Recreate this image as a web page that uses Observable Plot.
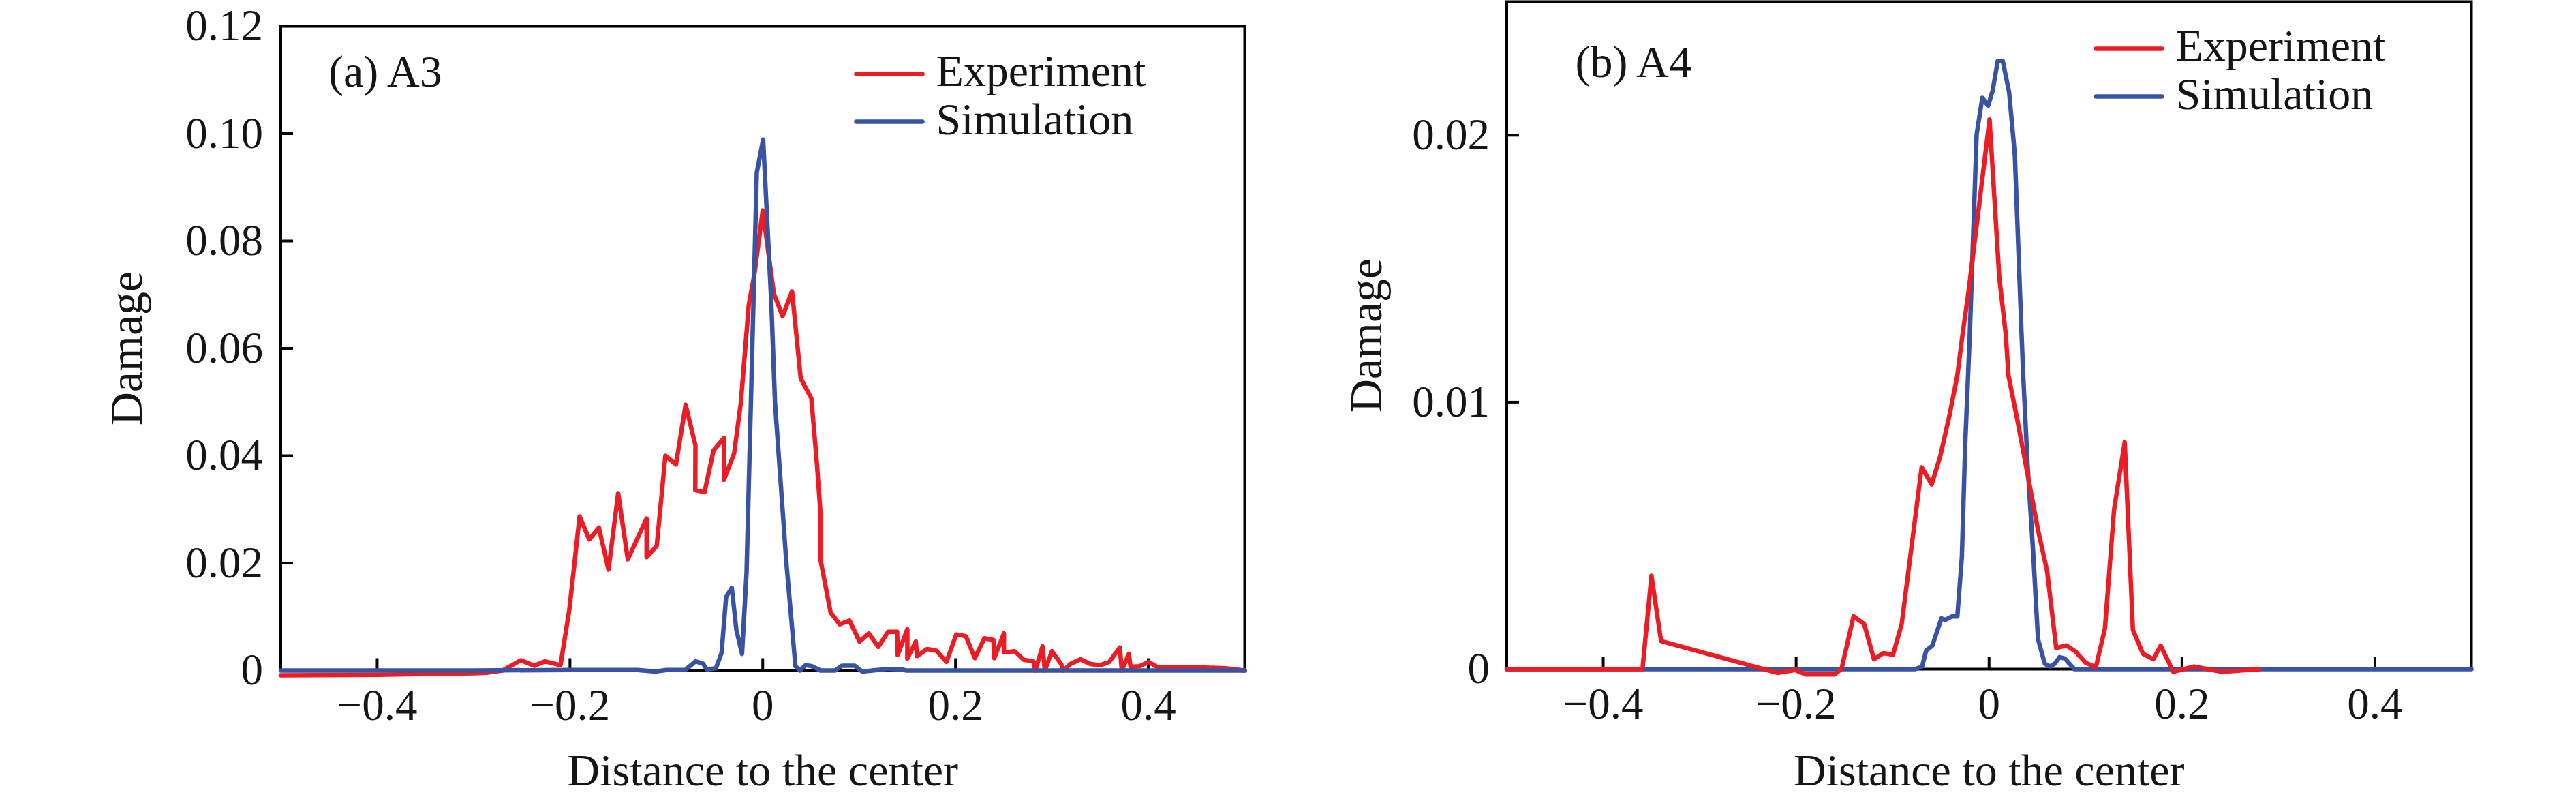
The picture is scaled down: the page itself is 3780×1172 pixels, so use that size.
<!DOCTYPE html>
<html>
<head>
<meta charset="utf-8">
<script src="https://cdn.jsdelivr.net/npm/d3@7"></script>
<script src="https://cdn.jsdelivr.net/npm/@observablehq/plot@0.6"></script>
<style>
  html, body { margin: 0; padding: 0; background: white; }
  #wrap { position: relative; width: 3780px; height: 1172px; overflow: hidden; background: white; }
  .panel { position: absolute; top: 0; }
  .panel svg { max-width: none !important; }
</style>
</head>
<body>
<div id="wrap">
  <div class="panel" id="pa" style="left:0px"></div>
  <div class="panel" id="pb" style="left:1900px"></div>
</div>
<script>
// ---------- data ----------
const xTicks = [-0.4, -0.2, 0, 0.2, 0.4];
const yTicksA = [0, 0.02, 0.04, 0.06, 0.08, 0.10, 0.12];
const yTicksB = [0, 0.01, 0.02];
const seriesNames = ["Experiment", "Simulation"];
const panelLabels = ["(a) A3", "(b) A4"];
const xLabel = "Distance to the center";
const yLabel = "Damage";

// (a) A3 experiment: [x, damage]
const expA = [
  [-0.5, -0.0009], [-0.40, -0.0008], [-0.30, -0.0005], [-0.2855, -0.0004], [-0.27, 0.0],
  [-0.251, 0.0019], [-0.237, 0.0009], [-0.226, 0.0017], [-0.2098, 0.0010], [-0.2006, 0.0114],
  [-0.190, 0.0287], [-0.180, 0.0244], [-0.170, 0.0266], [-0.160, 0.0188], [-0.150, 0.0330],
  [-0.140, 0.0207], [-0.1205, 0.0283], [-0.1205, 0.0211], [-0.110, 0.0232], [-0.101, 0.0400],
  [-0.090, 0.0384], [-0.080, 0.0495], [-0.0698, 0.0419], [-0.0700, 0.0336], [-0.0604, 0.0332],
  [-0.051, 0.0410], [-0.0403, 0.0433], [-0.0403, 0.0355], [-0.0297, 0.0404], [-0.0227, 0.0499],
  [-0.0145, 0.0681], [-0.0085, 0.0740], [0.0, 0.0857], [0.0115, 0.0702], [0.0206, 0.0660],
  [0.0304, 0.0706], [0.0394, 0.0544], [0.0504, 0.0507], [0.0562, 0.0385], [0.0598, 0.0296],
  [0.0598, 0.0207], [0.0704, 0.0108], [0.0799, 0.0086], [0.0900, 0.0093], [0.1004, 0.0054],
  [0.1100, 0.0069], [0.1199, 0.0044], [0.1300, 0.0072], [0.1394, 0.0072], [0.1400, 0.0029],
  [0.1500, 0.0077], [0.1500, 0.0022], [0.1588, 0.0054], [0.1600, 0.0027], [0.1705, 0.0040],
  [0.1800, 0.0037], [0.1906, 0.0016], [0.2007, 0.0067], [0.2107, 0.0064], [0.2200, 0.0023],
  [0.2299, 0.0060], [0.2393, 0.0057], [0.2402, 0.0023], [0.2502, 0.0069], [0.2502, 0.0034],
  [0.2613, 0.0036], [0.2707, 0.0020], [0.2808, 0.0017], [0.2828, 0.0000], [0.2903, 0.0045],
  [0.2926, 0.0000], [0.3001, 0.0036], [0.3096, 0.0012], [0.3120, 0.0000], [0.3190, 0.0012],
  [0.3296, 0.0021], [0.3400, 0.0012], [0.3501, 0.0010], [0.3595, 0.0016], [0.3704, 0.0043],
  [0.3725, 0.0000], [0.3798, 0.0031], [0.3815, 0.0007], [0.3909, 0.0008], [0.4003, 0.0016],
  [0.4097, 0.0006], [0.4500, 0.0006], [0.4800, 0.0004], [0.5000, 0.0000]
];
// (a) A3 simulation
const simA = [
  [-0.5, 0.0], [-0.30, 0.0], [-0.20, 0.0001], [-0.13, 0.0001], [-0.1115, -0.0002], [-0.10, 0.0001],
  [-0.0804, 0.0001], [-0.0698, 0.0017], [-0.062, 0.0013], [-0.058, 0.0002], [-0.0486, 0.0004],
  [-0.0427, 0.0033], [-0.038, 0.0137], [-0.0321, 0.0154], [-0.0274, 0.0076], [-0.0215, 0.0031],
  [-0.0168, 0.0182], [-0.0062, 0.0927], [0.0004, 0.0989], [0.0032, 0.0889], [0.009, 0.0680],
  [0.0127, 0.0499], [0.0244, 0.0203], [0.0339, 0.0008], [0.0386, 0.0], [0.0445, 0.0010],
  [0.051, 0.0008], [0.0598, 0.0], [0.075, 0.0], [0.0822, 0.0009], [0.0952, 0.0009],
  [0.1034, -0.0002], [0.114, 0.0], [0.13, 0.0003], [0.1445, 0.0002], [0.149, 0.0], [0.5, 0.0]
];
// (b) A4 experiment
const expB = [
  [-0.5, 0.0], [-0.3593, 0.0], [-0.350, 0.0035], [-0.340, 0.00105], [-0.2196, -0.00014],
  [-0.201, -0.00003], [-0.190, -0.0002], [-0.1605, -0.0002], [-0.153, 0.0], [-0.1405, 0.00198],
  [-0.1295, 0.00169], [-0.1193, 0.00037], [-0.1095, 0.00060], [-0.0996, 0.00054], [-0.0906, 0.00169],
  [-0.0699, 0.00756], [-0.0595, 0.00692], [-0.0505, 0.00799], [-0.0412, 0.00948], [-0.0329, 0.0110],
  [-0.0275, 0.01254], [-0.0212, 0.01416], [0.0005, 0.02059], [0.0106, 0.01467], [0.0173, 0.01254],
  [0.0201, 0.0110], [0.0295, 0.0093], [0.0401, 0.00726], [0.0507, 0.00522], [0.0601, 0.00369],
  [0.0696, 0.00079], [0.0801, 0.00089], [0.0896, 0.00066], [0.1001, 0.00024], [0.1107, 0.00007],
  [0.1201, 0.00152], [0.1296, 0.00598], [0.1406, 0.0085], [0.1491, 0.00147], [0.1595, 0.00058],
  [0.1703, 0.00037], [0.1779, 0.00088], [0.191, -0.0001], [0.2125, 0.0001], [0.241, -0.0001],
  [0.2804, 0.0]
];
// (b) A4 simulation
const simB = [
  [-0.5, 0.0], [-0.0765, 0.0], [-0.0694, 0.0001], [-0.0652, 0.0007], [-0.0588, 0.00088],
  [-0.0494, 0.0019], [-0.0452, 0.00185], [-0.0388, 0.00197], [-0.0329, 0.00197], [-0.0282, 0.0042],
  [-0.0247, 0.00845], [-0.0200, 0.01254], [-0.0129, 0.02003], [-0.0070, 0.0214], [-0.0011, 0.0211],
  [0.0036, 0.02165], [0.0090, 0.02278], [0.0142, 0.02278], [0.0208, 0.0216], [0.0267, 0.01927],
  [0.0337, 0.01254], [0.0354, 0.0110], [0.040, 0.0076], [0.046, 0.0042], [0.0507, 0.00113],
  [0.0578, 0.0002], [0.063, 0.0001], [0.068, 0.0002], [0.0731, 0.00045], [0.0785, 0.0004],
  [0.0884, 0.0], [0.5, 0.0]
];

// ---------- styling ----------
const RED = "#ed1c24";
const BLUE = "#3953a4";
const INK = "#161414";
const FONT = "'Liberation Serif', 'Times New Roman', serif";
const seg = {draw(ctx, l) { ctx.moveTo(0, 0); ctx.lineTo(0, -l); }};

const fmtX = d => d === 0 ? "0" : (d < 0 ? "\u2212" : "") + Math.abs(d).toFixed(1);
const fmtY = dec => d => d === 0 ? "0" : d.toFixed(dec);

function panel(o) {
  const innerYTicks = o.yTicks.filter(d => d > o.yDomain[0] && d < o.yDomain[1]);
  const txt = (fs) => ({textAnchor: "start", lineAnchor: "bottom", fontSize: fs, fontFamily: FONT, fill: INK});
  const marks = [
    Plot.frame({stroke: "black", strokeWidth: 4}),
    Plot.axisX({ticks: xTicks, tickSize: 0, tickPadding: 26, tickFormat: fmtX, label: null,
                fontSize: 65, fontFamily: FONT, fill: INK}),
    Plot.axisY({ticks: o.yTicks, tickSize: 0, tickPadding: o.yPad, tickFormat: fmtY(o.dec), label: null,
                fontSize: 65, fontFamily: FONT, fill: INK}),
    Plot.vector(xTicks, {x: d => d, frameAnchor: "bottom", length: 18, rotate: 0, anchor: "start",
                shape: seg, stroke: "black", strokeWidth: 4, strokeLinecap: "butt"}),
    Plot.vector(innerYTicks, {y: d => d, frameAnchor: "left", length: 18, rotate: 90, anchor: "start",
                shape: seg, stroke: "black", strokeWidth: 4, strokeLinecap: "butt"})
  ];
  const lineExp = Plot.line(o.exp, {x: d => d[0], y: d => d[1], stroke: RED, strokeWidth: 6.5});
  const lineSim = Plot.line(o.sim, {x: d => d[0], y: d => d[1], stroke: BLUE, strokeWidth: 6.5});
  if (o.redOnTop) marks.push(lineSim, lineExp); else marks.push(lineExp, lineSim);
  marks.push(
    Plot.text([o.label], {text: d => d, frameAnchor: "top-left", dx: o.labelDx, dy: o.labelDy, ...txt(66)}),
    Plot.vector([seriesNames[0]], {frameAnchor: "top-left", dx: o.legDx, dy: o.legDy, length: 97, rotate: 90,
              anchor: "start", shape: seg, stroke: RED, strokeWidth: 6.5, strokeLinecap: "round"}),
    Plot.vector([seriesNames[1]], {frameAnchor: "top-left", dx: o.legDx, dy: o.legDy + 70, length: 97, rotate: 90,
              anchor: "start", shape: seg, stroke: BLUE, strokeWidth: 6.5, strokeLinecap: "round"}),
    Plot.text([seriesNames[0]], {text: d => d, frameAnchor: "top-left", dx: o.legDx + 117, dy: o.legDy + 17.5, ...txt(66)}),
    Plot.text([seriesNames[1]], {text: d => d, frameAnchor: "top-left", dx: o.legDx + 117, dy: o.legDy + 88, ...txt(66)}),
    Plot.text([yLabel], {text: d => d, frameAnchor: "left", dx: o.yLabDx, rotate: -90,
              ...txt(68), textAnchor: "middle"}),
    Plot.text([xLabel], {text: d => d, frameAnchor: "bottom", dy: o.xLabDy, ...txt(66), textAnchor: "middle"})
  );
  return Plot.plot({
    width: o.width, height: 1172,
    marginLeft: o.ml, marginRight: o.mr, marginTop: o.mt, marginBottom: o.mb,
    x: {domain: [-0.5, 0.5]},
    y: {domain: o.yDomain},
    style: {background: "white", overflow: "visible", fontFamily: FONT, maxWidth: "none"},
    marks
  });
}

document.getElementById("pa").appendChild(panel({
  width: 1900, ml: 411.5, mr: 74, mt: 38, mb: 189,
  yDomain: [0, 0.12], yTicks: yTicksA, dec: 2, yPad: 26,
  exp: expA, sim: simA, redOnTop: false,
  label: panelLabels[0], labelDx: 70, labelDy: 88,
  legDx: 844.5, legDy: 70,
  yLabDx: -204.5, xLabDy: 168
}));
document.getElementById("pb").appendChild(panel({
  width: 1880, ml: 310.5, mr: 154, mt: 2, mb: 191,
  yDomain: [0, 0.025], yTicks: yTicksB, dec: 2, yPad: 25,
  exp: expB, sim: simB, redOnTop: true,
  label: panelLabels[1], labelDx: 100.5, labelDy: 110,
  legDx: 864.5, legDy: 69,
  yLabDx: -184.5, xLabDy: 170
}));
</script>
</body>
</html>
